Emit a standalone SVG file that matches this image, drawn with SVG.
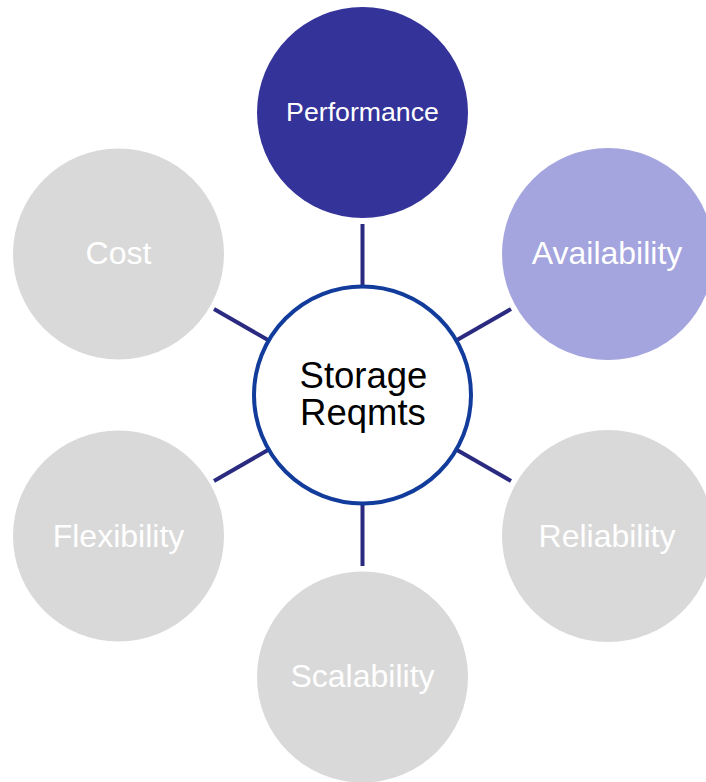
<svg xmlns="http://www.w3.org/2000/svg" width="706" height="782" viewBox="0 0 706 782">
  <style>
    .lbl { font-family: "Liberation Sans", Arial, sans-serif; text-anchor: middle; fill: #ffffff; font-size: 32px; }
    .hub { font-family: "Liberation Sans", Arial, sans-serif; text-anchor: middle; fill: #000000; font-size: 36.5px; }
    .grey { fill: #d9d9d9; }
    .link { stroke: #2a2a80; stroke-width: 4; fill: none; }
  </style>
  <rect width="706" height="782" fill="#ffffff"/>

  <!-- spokes from the hub to each requirement -->
  <g id="connectors" class="link">
    <line x1="362.5" y1="285" x2="362.5" y2="224"/>
    <line x1="362.5" y1="505" x2="362.5" y2="566"/>
    <line x1="457" y1="340" x2="511" y2="309"/>
    <line x1="268" y1="340" x2="214" y2="309"/>
    <line x1="457" y1="450" x2="511" y2="481"/>
    <line x1="268" y1="450" x2="214" y2="481"/>
  </g>

  <g id="performance">
    <circle cx="362.5" cy="112.5" r="105.5" fill="#333399"/>
    <text class="lbl" x="362.5" y="121" style="font-size:26.7px">Performance</text>
  </g>

  <g id="availability">
    <circle cx="608" cy="254" r="106" fill="#a4a4de"/>
    <text class="lbl" x="607" y="264">Availability</text>
  </g>

  <g id="reliability">
    <circle cx="608" cy="536" r="106" class="grey"/>
    <text class="lbl" x="607" y="547">Reliability</text>
  </g>

  <g id="scalability">
    <circle cx="362.5" cy="677" r="105.5" class="grey"/>
    <text class="lbl" x="362.5" y="687">Scalability</text>
  </g>

  <g id="flexibility">
    <circle cx="118.5" cy="536" r="105.5" class="grey"/>
    <text class="lbl" x="118.5" y="547">Flexibility</text>
  </g>

  <g id="cost">
    <circle cx="118.5" cy="254" r="105.5" class="grey"/>
    <text class="lbl" x="118.5" y="264">Cost</text>
  </g>

  <g id="storage-reqmts">
    <circle cx="362.5" cy="395" r="108.5" fill="#ffffff" stroke="#123c9b" stroke-width="4"/>
    <text class="hub" x="363.5" y="388">Storage</text>
    <text class="hub" x="363" y="425">Reqmts</text>
  </g>
</svg>
